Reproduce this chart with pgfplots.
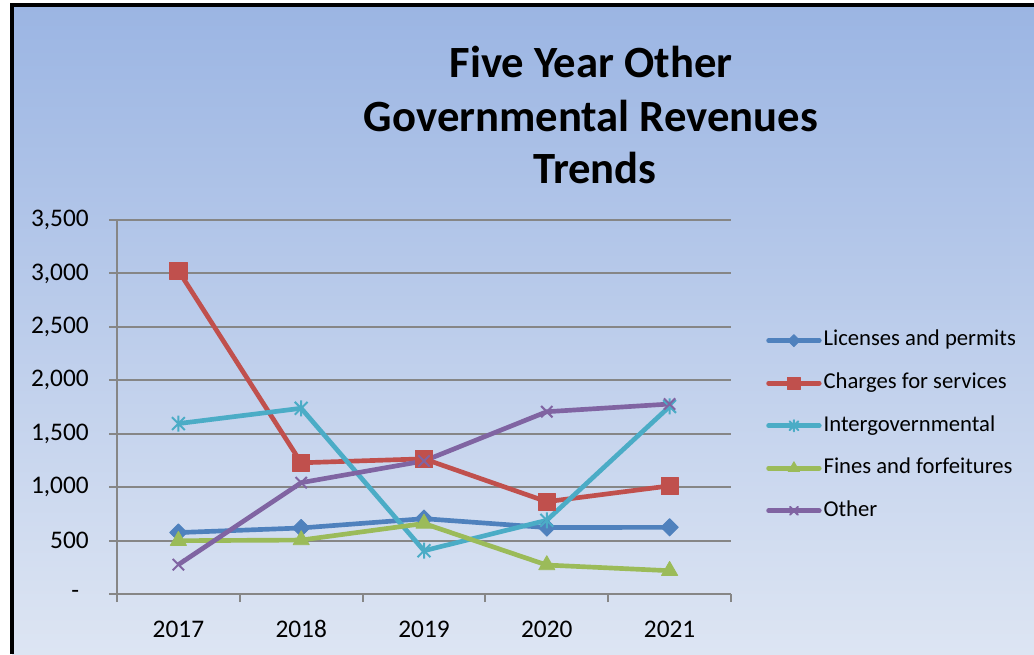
\documentclass[border=0pt]{standalone}
\usepackage{fontspec}
\setmainfont{Carlito}
\usepackage{pgfplots}
\pgfplotsset{compat=1.18}

\definecolor{licblue}{HTML}{4F81BD}
\definecolor{chgred}{HTML}{C0504D}
\definecolor{intaqua}{HTML}{4BACC6}
\definecolor{fingreen}{HTML}{9BBB59}
\definecolor{othpurple}{HTML}{8064A2}
\definecolor{bgtop}{HTML}{9BB5E3}
\definecolor{bgbot}{HTML}{DDE5F3}
\definecolor{gridgray}{HTML}{868686}

% Excel style star: an x with a vertical bar through it
\pgfdeclareplotmark{xstar}{%
  \pgfpathmoveto{\pgfqpoint{-.8\pgfplotmarksize}{-.8\pgfplotmarksize}}%
  \pgfpathlineto{\pgfqpoint{.8\pgfplotmarksize}{.8\pgfplotmarksize}}%
  \pgfpathmoveto{\pgfqpoint{-.8\pgfplotmarksize}{.8\pgfplotmarksize}}%
  \pgfpathlineto{\pgfqpoint{.8\pgfplotmarksize}{-.8\pgfplotmarksize}}%
  \pgfpathmoveto{\pgfqpoint{0pt}{-\pgfplotmarksize}}%
  \pgfpathlineto{\pgfqpoint{0pt}{\pgfplotmarksize}}%
  \pgfusepathqstroke}

\begin{document}
\begin{tikzpicture}
% chart area, in pixel units of the reference (origin top left)
\begin{scope}[x=0.75pt,y=-0.75pt]
\fill[white] (0,0) rectangle (1034,654);
\shade[top color=bgtop,bottom color=bgbot] (12,5) rectangle (1034,654);
\draw[line width=3pt] (12,654) -- (12,5) -- (1034,5);
\begin{scope}[font=\fontsize{33.5}{40}\selectfont\bfseries]
\node[anchor=base,inner sep=0pt] at (591,77) {Five Year Other};
\node[anchor=base,inner sep=0pt] at (591,131) {Governmental Revenues};
\node[anchor=base,inner sep=0pt] at (595,183) {Trends};
\end{scope}
\end{scope}

\begin{axis}[
    at={(87.75pt,-445.5pt)}, anchor=south west,
    scale only axis, width=460.5pt, height=280.5pt,
    xmin=-0.5, xmax=4.5, ymin=0, ymax=3500,
    axis x line*=bottom, axis y line*=left,
    axis line style={gridgray, line width=1.5pt, -},
    ymajorgrids, grid style={gridgray, line width=1.5pt},
    ytick={0,500,...,3500},
    yticklabels={{\makebox[13pt][l]{-}},500,{1,000},{1,500},{2,000},{2,500},{3,000},{3,500}},
    xtick={0,...,4},
    xticklabels={2017,2018,2019,2020,2021},
    minor xtick={-0.5,0.5,...,4.5},
    major x tick style={draw=none},
    tick align=outside,
    major tick length=6pt, minor tick length=6pt,
    tick style={gridgray, line width=1.5pt},
    tick label style={font=\fontsize{19}{22}\selectfont},
    /pgf/number format/assume math mode=true,
    yticklabel style={anchor=east, inner sep=0pt, xshift=-15pt},
    xticklabel style={anchor=north, inner sep=0pt, text height=12.5pt, text depth=0pt, yshift=-14pt},
    legend style={at={(1.057,0.45)}, anchor=west, draw=none, fill=none,
        font=\fontsize{17}{20}\selectfont, row sep=12.9pt, inner sep=0pt,
        nodes={inner sep=1.5pt, text height=12pt, text depth=4pt}},
    legend cell align=left,
    legend image code/.code={
        \draw[#1, line cap=round, every mark/.append style={scale=0.7}, mark repeat=2, mark phase=2]
        plot coordinates {(0pt,0pt) (19pt,0pt) (38pt,0pt)};},
    every axis plot/.append style={line width=3.5pt, line join=round},
]
\addplot[licblue, mark=square*, mark size=4.6pt,
    mark options={rotate=45, fill=licblue, line width=0.6pt}]
    coordinates {(0,575)(1,618)(2,705)(3,622)(4,624)};
\addlegendentry{Licenses and permits}
\addplot[chgred, mark=square*, mark size=6.5pt,
    mark options={fill=chgred, line width=0.6pt}]
    coordinates {(0,3026)(1,1228)(2,1265)(3,864)(4,1012)};
\addlegendentry{Charges for services}
\addplot[intaqua, mark=xstar, mark size=6pt,
    mark options={line width=1.5pt}]
    coordinates {(0,1595)(1,1738)(2,405)(3,690)(4,1755)};
\addlegendentry{Intergovernmental}
\addplot[fingreen, mark=triangle*, mark size=7pt,
    mark options={fill=fingreen, line width=0.6pt}]
    coordinates {(0,499)(1,505)(2,660)(3,271)(4,218)};
\addlegendentry{Fines and forfeitures}
\addplot[othpurple, mark=x, mark size=6pt,
    mark options={line width=1.5pt}]
    coordinates {(0,275)(1,1042)(2,1245)(3,1706)(4,1778)};
\addlegendentry{Other}
\end{axis}
\pgfresetboundingbox
\path (0,0) rectangle (775.5pt,-490.5pt);
\end{tikzpicture}
\end{document}
